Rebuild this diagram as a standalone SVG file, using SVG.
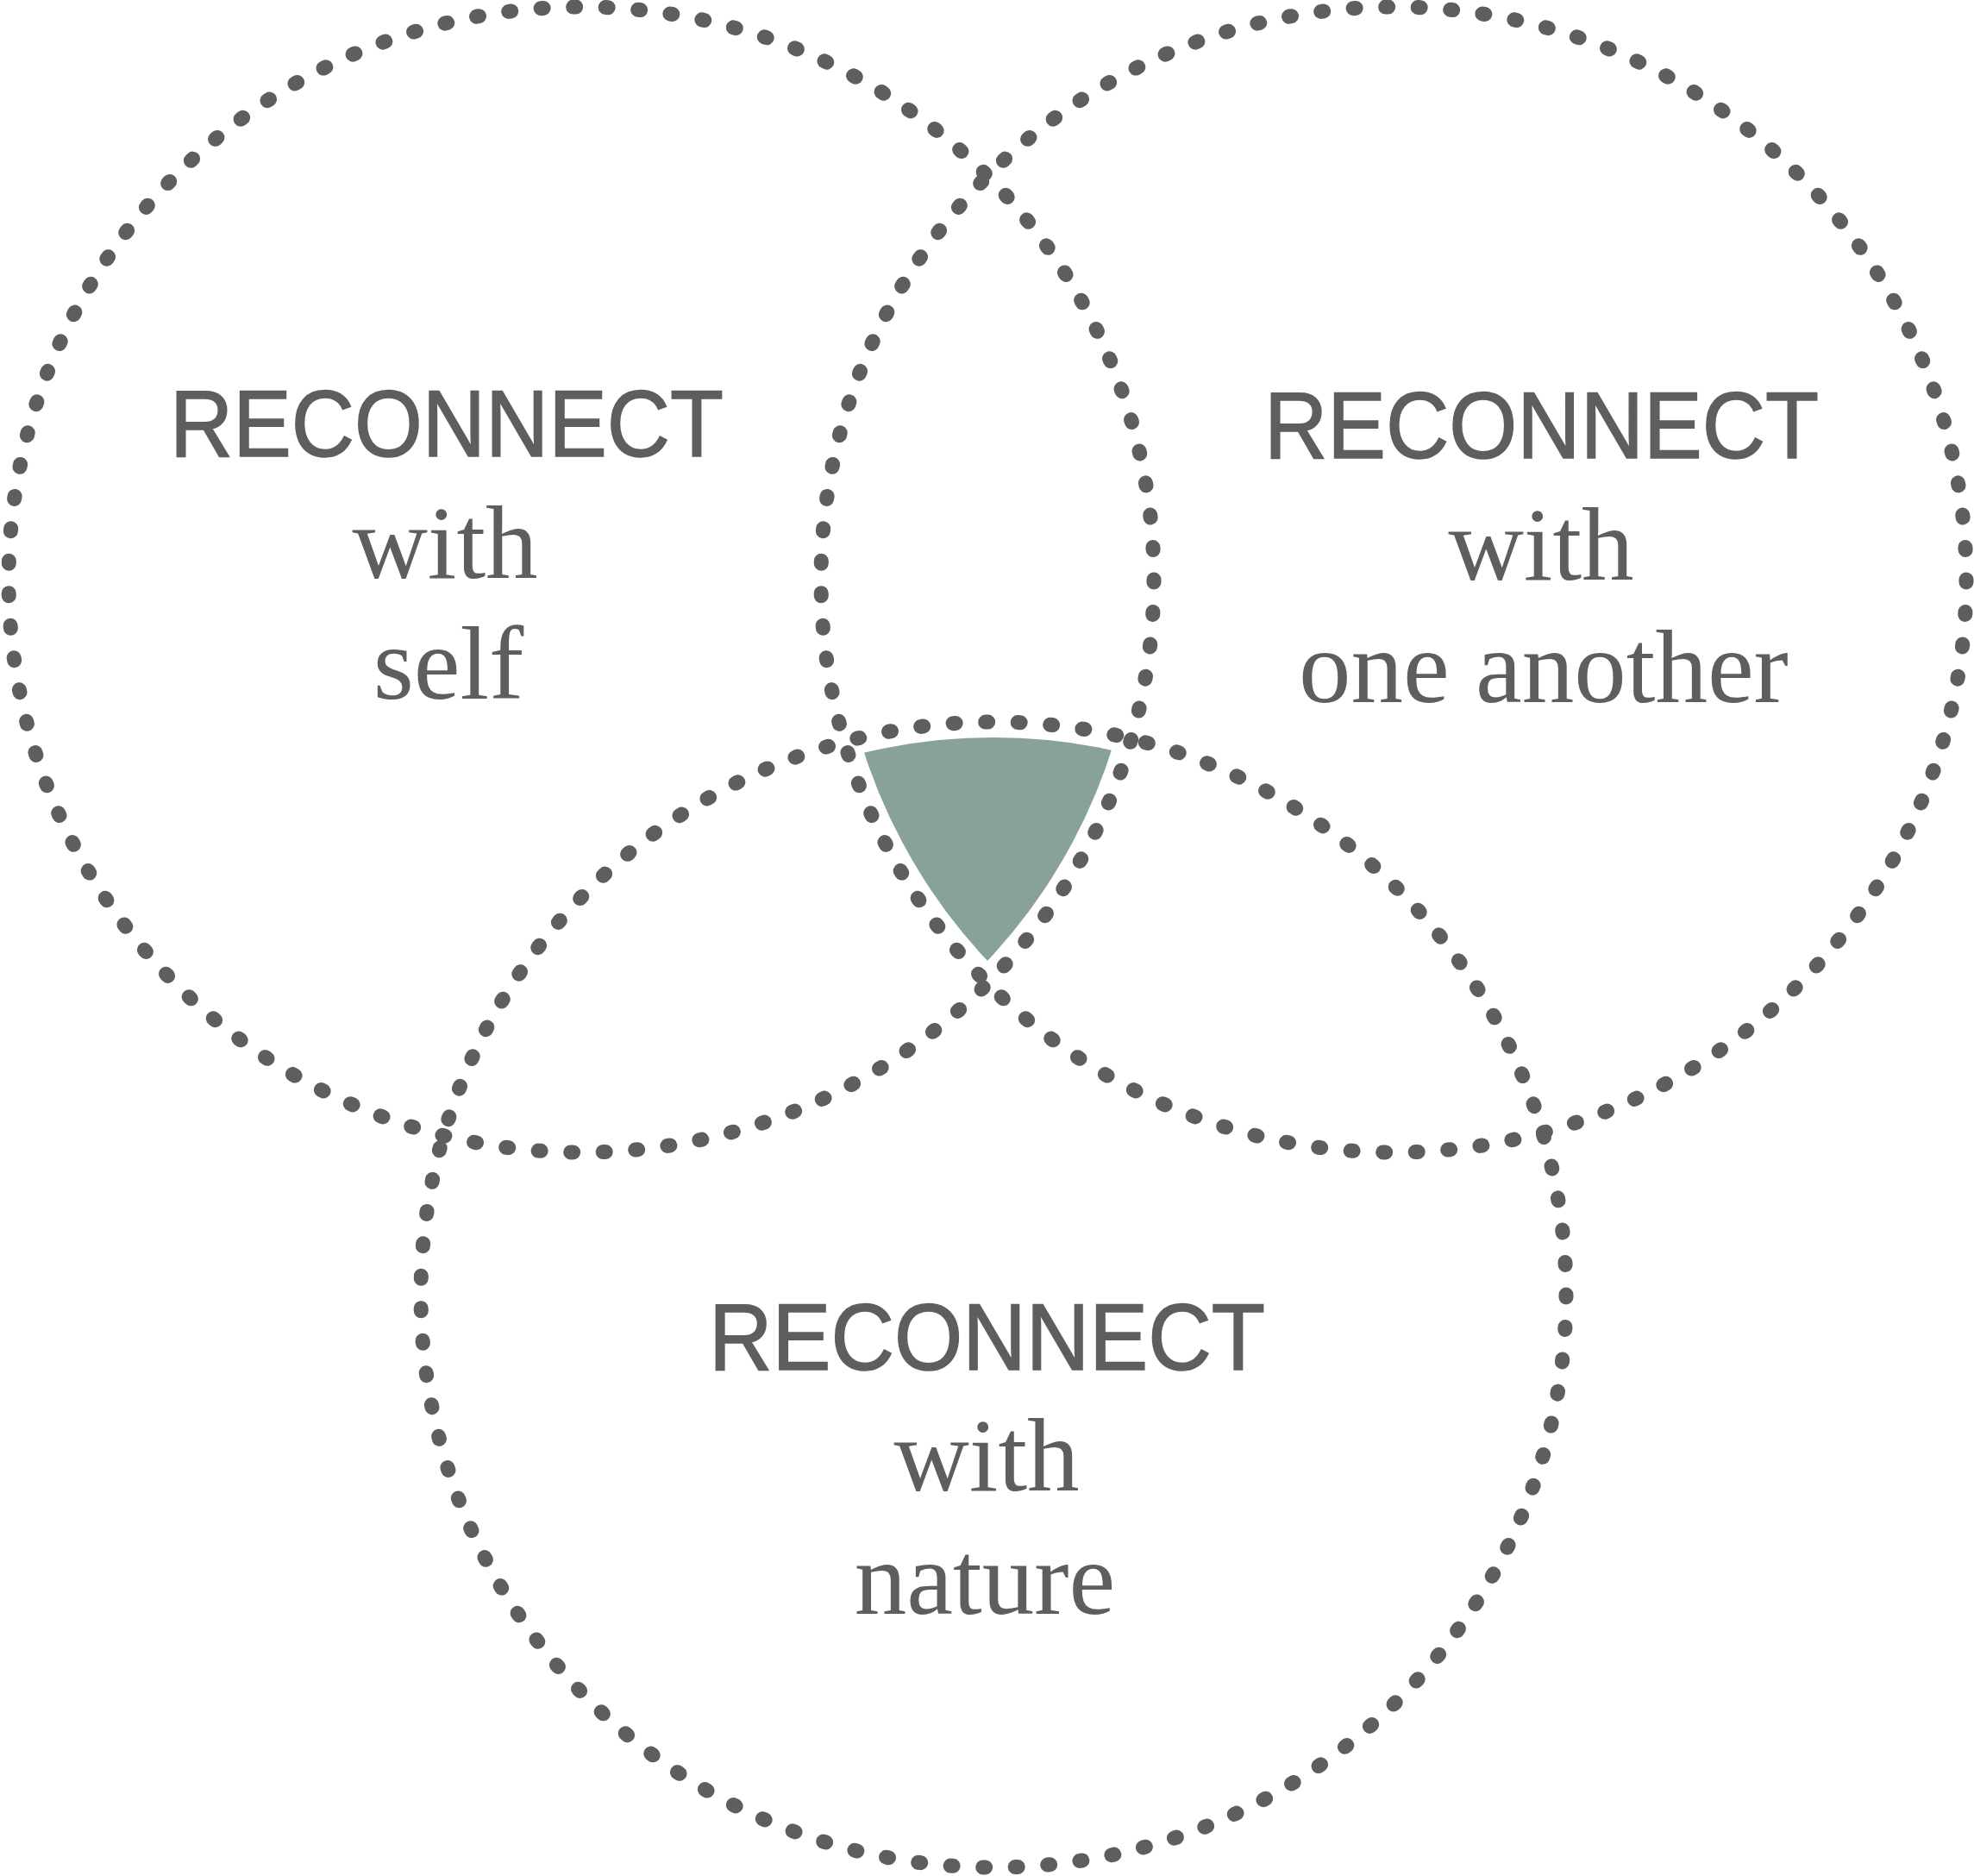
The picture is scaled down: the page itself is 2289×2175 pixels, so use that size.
<svg xmlns="http://www.w3.org/2000/svg" width="2289" height="2175" viewBox="0 0 2289 2175">
  <style>
    .ring { fill: none; stroke: #5f5d5e; stroke-width: 17; stroke-linecap: round; stroke-dasharray: 0.08 0.92; }
    .head { font-family: "Liberation Sans", Arial, sans-serif; font-size: 109px; fill: #5f5d5e; stroke: #5f5d5e; stroke-width: 1.6; }
    .sub { font-family: "Liberation Serif", "Times New Roman", serif; font-size: 121px; fill: #5f5d5e; text-anchor: middle; }
  </style>
  <defs>
    <clipPath id="clipL"><circle cx="674" cy="672" r="646"/></clipPath>
    <clipPath id="clipR"><circle cx="1616" cy="672" r="646"/></clipPath>
  </defs>
  <rect width="2289" height="2175" fill="#ffffff"/>
  <g id="center-overlap" clip-path="url(#clipL)">
    <g clip-path="url(#clipR)">
      <circle cx="1152" cy="1501" r="646" fill="#88a19a"/>
    </g>
  </g>
  <g id="self">
    <circle class="ring" cx="674" cy="672" r="664" pathLength="111"/>
    <text class="head" x="197" y="529" textLength="642" lengthAdjust="spacingAndGlyphs">RECONNECT</text>
    <text class="sub" x="516" y="670">with</text>
    <text class="sub" x="520" y="810">self</text>
  </g>
  <g id="one-another">
    <circle class="ring" cx="1616" cy="672" r="664" pathLength="111"/>
    <text class="head" x="1466" y="531" textLength="643" lengthAdjust="spacingAndGlyphs">RECONNECT</text>
    <text class="sub" x="1787" y="672">with</text>
    <text class="sub" x="1790" y="814">one another</text>
  </g>
  <g id="nature">
    <circle class="ring" cx="1152" cy="1501" r="664" pathLength="111"/>
    <text class="head" x="822" y="1588" textLength="645" lengthAdjust="spacingAndGlyphs">RECONNECT</text>
    <text class="sub" x="1144" y="1728">with</text>
    <text class="sub" x="1142" y="1871">nature</text>
  </g>
  <g id="connectors"/>
</svg>
